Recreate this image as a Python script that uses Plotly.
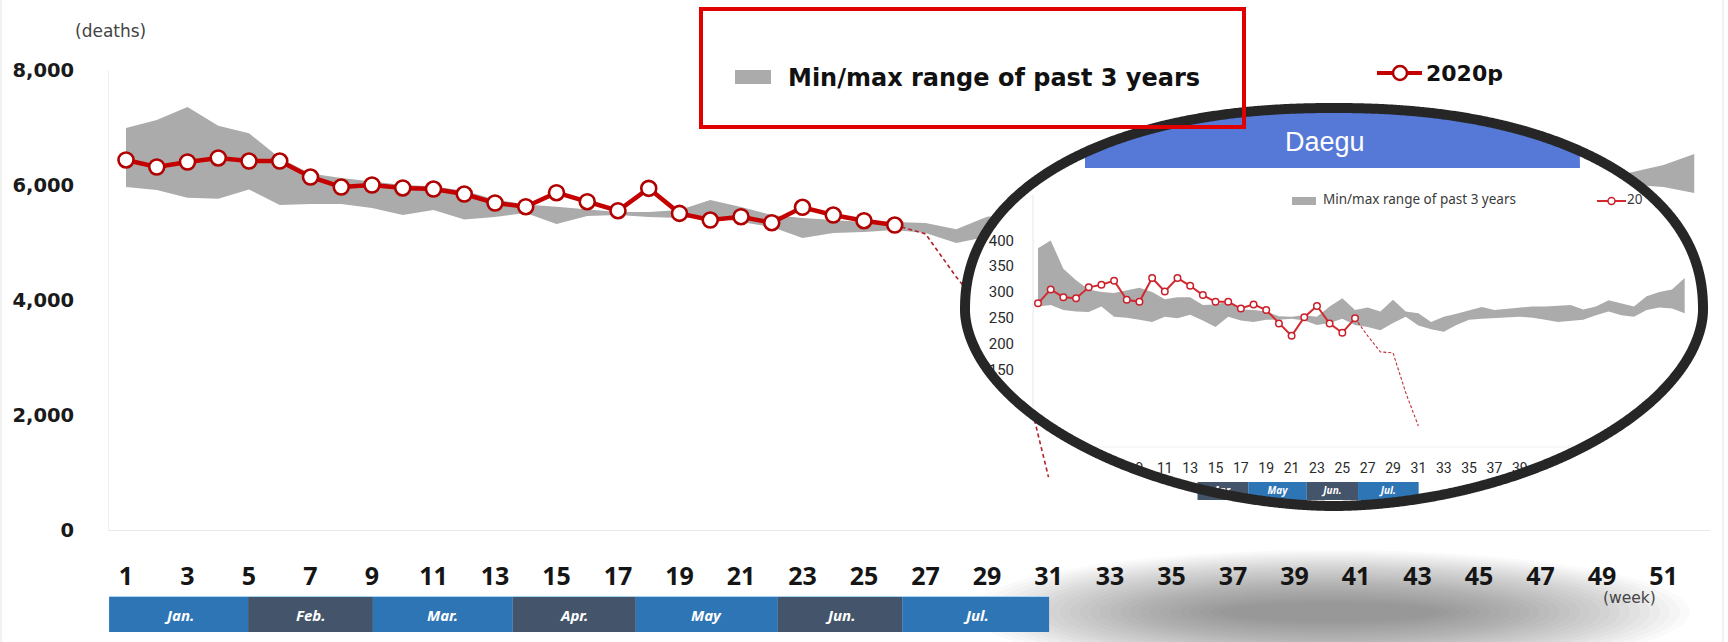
import numpy as np
import plotly.graph_objects as go

# ---------------- data ----------------
week_ticks = list(range(1, 52, 2))

# Whole country: weekly deaths 2020 (provisional)
weeks_2020 = list(range(1, 27))
deaths_2020 = [6435, 6313, 6400, 6470, 6417, 6417, 6139, 5965, 6000, 5948, 5930, 5843, 5687,
               5622, 5866, 5709, 5553, 5942, 5507, 5391, 5449, 5344, 5612, 5478, 5379, 5304]
weeks_incomplete = [26, 27, 28, 29, 30, 31]
deaths_incomplete = [5304, 5150, 4400, 3750, 3100, 920]

# Whole country: min/max of the past 3 years
range_weeks_early = list(range(1, 31))
range_max_early = [6990, 7130, 7357, 7030, 6900, 6470, 6200, 6120, 6060, 6000, 5980, 5900, 5750,
                   5660, 5620, 5580, 5530, 5530, 5565, 5740, 5617, 5478, 5426, 5391, 5356, 5356,
                   5339, 5230, 5450, 5500]
range_min_early = [5965, 5913, 5780, 5760, 5920, 5652, 5670, 5670, 5600, 5478, 5565, 5400, 5443,
                   5513, 5320, 5460, 5478, 5443, 5426, 5443, 5356, 5269, 5078, 5165, 5182, 5217,
                   5165, 4990, 5100, 5150]
range_weeks_late = [48, 49, 50, 51, 52]
range_max_late = [6087, 6122, 6226, 6348, 6539]
range_min_late = [5948, 5983, 6000, 5965, 5861]

# Daegu
daegu_weeks = list(range(1, 53))
daegu_max = [385, 400, 345, 323, 305, 300, 298, 303, 308, 300, 286, 290, 290, 275, 276, 281, 266,
             265, 262, 253, 252, 255, 252, 272, 288, 265, 270, 262, 285, 262, 259, 242, 252, 258,
             265, 271, 265, 267, 269, 272, 272, 274, 275, 266, 272, 284, 278, 272, 292, 300, 305, 327]
daegu_min = [272, 275, 265, 262, 261, 272, 252, 250, 246, 242, 252, 249, 256, 245, 232, 252, 245,
             242, 246, 246, 248, 245, 236, 240, 248, 236, 232, 226, 240, 252, 235, 228, 223, 236,
             246, 248, 249, 251, 252, 250, 246, 242, 244, 246, 255, 262, 255, 252, 265, 270, 268, 259]
daegu_weeks_2020 = list(range(1, 27))
daegu_2020 = [278, 305, 290, 288, 309, 314, 322, 285, 281, 327, 301, 327, 312, 294, 281, 281, 268,
              276, 265, 239, 215, 251, 273, 239, 221, 249]
daegu_weeks_incomplete = [26, 27, 28, 29, 30, 31]
daegu_incomplete = [249, 215, 184, 182, 105, 40]
daegu_y_ticks = [150, 200, 250, 300, 350, 400]
daegu_week_ticks = list(range(9, 40, 2))

months = ["Jan.", "Feb.", "Mar.", "Apr.", "May", "Jun.", "Jul."]
month_edges = [0.45, 4.97, 9.03, 13.58, 17.58, 22.2, 26.24, 31.02]
month_colors = ["#2E75B6", "#44546A"] * 4

# ---------------- geometry ----------------
W, H = 1728, 642
ML, MR, MT, MB = 109, 1710, 70, 530          # main plot area (px)


def px(X):
    return (X - ML) / (MR - ML)


def py(Y):
    return (MB - Y) / (MB - MT)


# main week axis: week 1 at x=126 px, 30.75 px per week
def wk(X):
    return 1 + (X - 126) / 30.75


# inset (Daegu) scale: week 1 at x=1038 px, 12.68 px per week; 300 deaths at y=292 px
def ix(X):
    return 1 + (X - 1038) / 12.68


def iy(Y):
    return 300 - (Y - 292) / 0.516


IX0, IX1, IY0, IY1 = 945, 1710, 95, 530

# magnifier outline (slightly egg-shaped ellipse)
CX, CY = 1334, 310
RX, RY_TOP, RY_BOT = 369, 202, 196
EXP_TOP, EXP_BOT = 2.2, 1.85


def outline(rx=RX, n=1441):
    t = np.linspace(0, 2 * np.pi, n)
    c, s = np.cos(t), np.sin(t)
    top = s >= 0
    e = np.where(top, EXP_TOP, EXP_BOT)
    ry = np.where(top, RY_TOP, RY_BOT)
    X = CX + rx * np.sign(c) * np.abs(c) ** (2 / e)
    Y = CY - ry * np.sign(s) * np.abs(s) ** (2 / e)
    return X, Y


OX, OY = outline()
# title bar of the Daegu panel: a rectangle seen through the ring
cap = OY <= 168
CAPX, CAPY = np.clip(OX[cap], 1085, 1580), OY[cap]

fig = go.Figure()

# ---------------- main chart ----------------
for wks, mx, mn in [(range_weeks_early, range_max_early, range_min_early),
                    (range_weeks_late, range_max_late, range_min_late)]:
    fig.add_trace(go.Scatter(x=list(wks) + list(wks)[::-1], y=list(mx) + list(mn)[::-1],
                             fill="toself", fillcolor="#ABABAB", line=dict(width=0),
                             mode="lines", hoverinfo="skip", showlegend=False))

fig.add_trace(go.Scatter(x=weeks_incomplete, y=deaths_incomplete, mode="lines",
                         line=dict(color="#B3202A", width=1.6, dash="4px,3px"),
                         showlegend=False))
fig.add_trace(go.Scatter(x=weeks_2020, y=deaths_2020, mode="lines+markers",
                         line=dict(color="#C40000", width=4.5),
                         marker=dict(symbol="circle", size=15, color="white",
                                     line=dict(color="#B00000", width=2.6)),
                         showlegend=False))

# ---------------- inset (Daegu) ----------------
fig.add_trace(go.Scatter(x=ix(OX), y=iy(OY), fill="toself", fillcolor="white",
                         line=dict(width=0), mode="lines", hoverinfo="skip",
                         showlegend=False, xaxis="x2", yaxis="y2"))
fig.add_trace(go.Scatter(x=ix(CAPX), y=iy(CAPY), fill="toself", fillcolor="#5678D6",
                         line=dict(width=0), mode="lines", hoverinfo="skip",
                         showlegend=False, xaxis="x2", yaxis="y2"))
fig.add_trace(go.Scatter(x=daegu_weeks + daegu_weeks[::-1], y=daegu_max + daegu_min[::-1],
                         fill="toself", fillcolor="#ABABAB", line=dict(width=0), mode="lines",
                         hoverinfo="skip", showlegend=False, xaxis="x2", yaxis="y2"))
fig.add_trace(go.Scatter(x=daegu_weeks_incomplete, y=daegu_incomplete, mode="lines",
                         line=dict(color="#C0303A", width=1.1, dash="3px,2px"),
                         showlegend=False, xaxis="x2", yaxis="y2"))
fig.add_trace(go.Scatter(x=daegu_weeks_2020, y=daegu_2020, mode="lines+markers",
                         line=dict(color="#D42A2F", width=2),
                         marker=dict(symbol="circle", size=6.5, color="white",
                                     line=dict(color="#C8202A", width=1.5)),
                         showlegend=False, xaxis="x2", yaxis="y2"))

# inset month strip (Apr.-Jul.)
band_top, band_bot = iy(482), iy(500)
for i in range(3, 7):
    x0, x1 = month_edges[i], month_edges[i + 1]
    fig.add_trace(go.Scatter(x=[x0, x1, x1, x0], y=[band_bot, band_bot, band_top, band_top],
                             fill="toself", fillcolor=month_colors[i], line=dict(width=0),
                             mode="lines", hoverinfo="skip", showlegend=False,
                             xaxis="x2", yaxis="y2"))
fig.add_trace(go.Scatter(x=[(month_edges[i] + month_edges[i + 1]) / 2 for i in range(3, 7)],
                         y=[(band_top + band_bot) / 2] * 4, mode="text",
                         text=months[3:7],
                         textfont=dict(size=10, color="white", family="Noto Sans",
                                       weight="bold", style="italic"),
                         hoverinfo="skip", showlegend=False, xaxis="x2", yaxis="y2"))

# inset legend
fig.add_trace(go.Scatter(x=[ix(1323), ix(1627)], y=[iy(201), iy(201)], mode="text",
                         text=["Min/max range of past 3 years", "20"],
                         textposition="middle right",
                         textfont=dict(size=13.5, color="#3A3A3A", family="Noto Sans"),
                         hoverinfo="skip", showlegend=False, xaxis="x2", yaxis="y2"))

# ---------------- shapes ----------------
shapes = []

# soft shadow below the magnifier
N_SH = 26
for k in range(N_SH):
    f = k / (N_SH - 1)
    rx = 360 - 250 * f
    ry = 62 - 52 * f
    cx, cy = 1330, 612
    shapes.append(dict(type="circle", xref="paper", yref="paper", layer="below",
                       x0=px(cx - rx), x1=px(cx + rx), y0=py(cy + ry), y1=py(cy - ry),
                       fillcolor="rgba(90,90,90,0.028)", line=dict(width=0)))

# month strip of the main chart
for i, m in enumerate(months):
    shapes.append(dict(type="rect", xref="x", yref="paper", layer="above",
                       x0=month_edges[i], x1=month_edges[i + 1], y0=py(632), y1=py(597),
                       fillcolor=month_colors[i], line=dict(width=0)))
shapes.append(dict(type="line", xref="x", yref="paper", layer="above",
                   x0=month_edges[0], x1=month_edges[-1], y0=py(596.5), y1=py(596.5),
                   line=dict(color="#A9D3F2", width=1.2)))

# inset axis lines
shapes.append(dict(type="line", xref="paper", yref="paper", layer="above",
                   x0=px(1033), x1=px(1033), y0=py(195), y1=py(412),
                   line=dict(color="#E6E6E6", width=1)))
shapes.append(dict(type="line", xref="paper", yref="paper", layer="above",
                   x0=px(1095), x1=px(1575), y0=py(447), y1=py(447),
                   line=dict(color="#EFEFEF", width=1)))

# inset legend marks
shapes.append(dict(type="rect", xref="paper", yref="paper", layer="above",
                   x0=px(1292), x1=px(1316), y0=py(205), y1=py(197),
                   fillcolor="#ABABAB", line=dict(width=0)))
shapes.append(dict(type="line", xref="paper", yref="paper", layer="above",
                   x0=px(1597), x1=px(1626), y0=py(201), y1=py(201),
                   line=dict(color="#D42A2F", width=2)))
shapes.append(dict(type="circle", xref="paper", yref="paper", layer="above",
                   x0=px(1608), x1=px(1615), y0=py(204.5), y1=py(197.5),
                   fillcolor="white", line=dict(color="#C8202A", width=1.5)))

# magnifier ring
path = "M " + " L ".join(f"{px(x):.5f},{py(y):.5f}" for x, y in zip(OX, OY)) + " Z"
shapes.append(dict(type="path", path=path, xref="paper", yref="paper", layer="above",
                   line=dict(color="#262626", width=10)))

# highlighted legend box and its swatch
shapes.append(dict(type="rect", xref="paper", yref="paper", layer="above",
                   x0=px(701), x1=px(1244), y0=py(127), y1=py(9),
                   line=dict(color="#E10000", width=4)))
shapes.append(dict(type="rect", xref="paper", yref="paper", layer="above",
                   x0=px(735), x1=px(771), y0=py(84), y1=py(70),
                   fillcolor="#ABABAB", line=dict(width=0)))

# 2020p legend mark
shapes.append(dict(type="line", xref="paper", yref="paper", layer="above",
                   x0=px(1377), x1=px(1422), y0=py(73), y1=py(73),
                   line=dict(color="#C40000", width=4)))
shapes.append(dict(type="circle", xref="paper", yref="paper", layer="above",
                   x0=px(1393), x1=px(1407), y0=py(80), y1=py(66),
                   fillcolor="white", line=dict(color="#B00000", width=2.5)))

# thin frame lines at the page edges
for X in (1, 1723):
    shapes.append(dict(type="line", xref="paper", yref="paper", layer="below",
                       x0=px(X), x1=px(X), y0=py(0), y1=py(642),
                       line=dict(color="#E4E4E4", width=1)))

# ---------------- annotations ----------------
ann = []


def note(text, X, Y, size, color="#111", weight="normal", style="normal",
         xanchor="center", family="Noto Sans"):
    ann.append(dict(text=text, x=px(X), y=py(Y), xref="paper", yref="paper",
                    showarrow=False, xanchor=xanchor, yanchor="middle",
                    font=dict(size=size, color=color, weight=weight, style=style,
                              family=family)))


note("(deaths)", 110, 31, 17, color="#444", family="DejaVu Sans")
note("(week)", 1629, 598, 15.5, color="#444", family="DejaVu Sans")
note("Min/max range of past 3 years", 786, 78, 24, weight="bold", xanchor="left",
     family="DejaVu Sans")
note("2020p", 1424, 74, 22, weight="bold", xanchor="left", family="DejaVu Sans")
note("Daegu", 1325, 142, 27, color="white", family="Liberation Sans")
for i, m in enumerate(months):
    mid = (month_edges[i] + month_edges[i + 1]) / 2
    note(m, ML + (mid - wk(ML)) * 30.75, 614.5, 15, color="white", weight="bold",
         style="italic")

# ---------------- layout ----------------
fig.update_layout(
    width=W, height=H,
    margin=dict(l=ML, r=W - MR, t=MT, b=H - MB),
    paper_bgcolor="white", plot_bgcolor="rgba(0,0,0,0)",
    showlegend=False,
    shapes=shapes, annotations=ann,
    xaxis=dict(range=[wk(ML), wk(MR)], tickvals=week_ticks,
               ticks="outside", ticklen=24, tickcolor="rgba(0,0,0,0)",
               tickfont=dict(size=25, color="#151515", family="Noto Sans", weight="bold"),
               showgrid=False, zeroline=False, showline=True, linecolor="#E9E9E9",
               linewidth=1),
    yaxis=dict(range=[0, 8000], tickvals=[0, 2000, 4000, 6000, 8000], tickformat=",d",
               ticks="outside", ticklen=30, tickcolor="rgba(0,0,0,0)",
               tickfont=dict(size=19.5, color="#1A1A1A", family="DejaVu Sans", weight="bold"),
               showgrid=False, zeroline=False, showline=True, linecolor="#EEEEEE",
               linewidth=1),
    xaxis2=dict(domain=[px(IX0), px(IX1)], range=[ix(IX0), ix(IX1)], anchor="free",
                position=py(447), tickvals=daegu_week_ticks, ticks="outside", ticklen=8,
                tickcolor="rgba(0,0,0,0)",
                tickfont=dict(size=14, color="#2A2A2A", family="Roboto"),
                showgrid=False, zeroline=False, showline=False),
    yaxis2=dict(domain=[py(IY1), py(IY0)], range=[iy(IY1), iy(IY0)], anchor="free",
                position=px(1033), tickvals=daegu_y_ticks, ticks="outside", ticklen=16,
                tickcolor="rgba(0,0,0,0)",
                tickfont=dict(size=15, color="#2A2A2A", family="Roboto"),
                showgrid=False, zeroline=False, showline=False),
)

fig.write_html("out.html")
